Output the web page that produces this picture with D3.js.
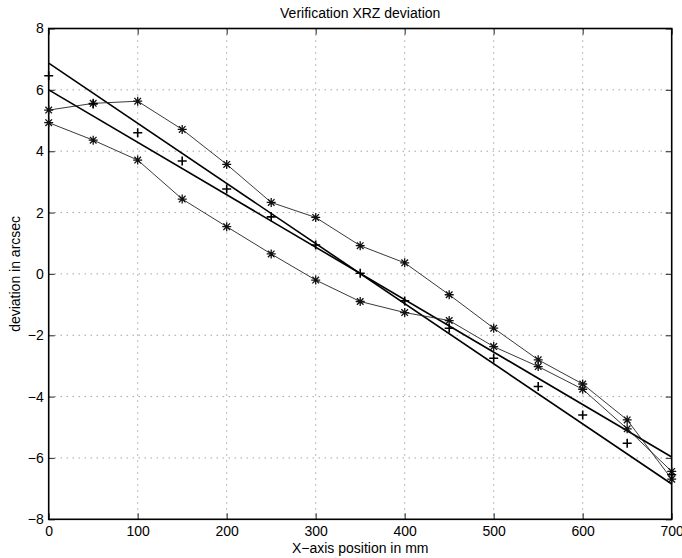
<!DOCTYPE html>
<html>
<head>
<meta charset="utf-8">
<script src="https://cdn.jsdelivr.net/npm/d3@7"></script>
<style>
    body { margin: 0; background: #fff; }
    text { font-family: "Liberation Sans", Arial, sans-serif; fill: #000; }
</style>
</head>
<body>
<div class="chart"></div>
<script>
// positions along the x axis (mm)
const positions = [0, 50, 100, 150, 200, 250, 300, 350, 400, 450, 500, 550, 600, 650, 700];
// measured runs (asterisk markers)
const runUpper = [5.34, 5.56, 5.63, 4.71, 3.57, 2.33, 1.84, 0.92, 0.36, -0.68, -1.77, -2.80, -3.59, -4.76, -6.69];
const runLower = [4.93, 4.36, 3.71, 2.44, 1.54, 0.65, -0.20, -0.90, -1.26, -1.52, -2.37, -3.02, -3.76, -5.05, -6.44];
// reference points (plus markers)
const reference = [6.46, 5.54, 4.60, 3.68, 2.77, 1.86, 0.94, 0.02, -0.88, -1.77, -2.75, -3.67, -4.60, -5.52, -6.55];
// fitted straight lines
const fitX = [0, 700];
const fitA = [6.87, -6.85];
const fitB = [6.00, -5.97];

const xTicks = [0, 100, 200, 300, 400, 500, 600, 700];
const yTicks = [-8, -6, -4, -2, 0, 2, 4, 6, 8];

function drawChart() {
    const w = 682, h = 558;
    const margin = { top: 28.5, right: 10.3, bottom: 38.7, left: 48.7 };
    const chartWidth = w - margin.left - margin.right;
    const chartHeight = h - margin.top - margin.bottom;

    const svg = d3.select('.chart')
        .append('svg')
        .attr('width', w)
        .attr('height', h);

    const g = svg.append('g')
        .attr('transform', `translate(${margin.left}, ${margin.top})`);

    const xScale = d3.scaleLinear().domain([0, 700]).range([0, chartWidth]);
    const yScale = d3.scaleLinear().domain([-8, 8]).range([chartHeight, 0]);

    const fmt = d => d < 0 ? '\u2212' + Math.abs(d) : String(d);

    // grid
    g.append('g')
        .selectAll('line')
        .data(xTicks.slice(1, -1))
        .enter().append('line')
        .attr('x1', d => xScale(d)).attr('x2', d => xScale(d))
        .attr('y1', 0).attr('y2', chartHeight)
        .attr('stroke', '#777').attr('stroke-width', 1)
        .attr('stroke-dasharray', '1,5');
    g.append('g')
        .selectAll('line')
        .data(yTicks.slice(1, -1))
        .enter().append('line')
        .attr('y1', d => yScale(d)).attr('y2', d => yScale(d))
        .attr('x1', 0).attr('x2', chartWidth)
        .attr('stroke', '#777').attr('stroke-width', 1)
        .attr('stroke-dasharray', '1,5');

    // axes with inward ticks
    const xAxis = d3.axisBottom(xScale).tickValues(xTicks).tickSize(-6).tickPadding(7).tickFormat(fmt);
    const yAxis = d3.axisLeft(yScale).tickValues(yTicks).tickSize(-6).tickPadding(5).tickFormat(fmt);

    const gx = g.append('g')
        .attr('transform', `translate(0, ${chartHeight})`)
        .call(xAxis);
    const gy = g.append('g').call(yAxis);
    const gxTop = g.append('g').call(d3.axisTop(xScale).tickValues(xTicks).tickSize(-6).tickFormat(''));
    const gyRight = g.append('g')
        .attr('transform', `translate(${chartWidth}, 0)`)
        .call(d3.axisRight(yScale).tickValues(yTicks).tickSize(-6).tickFormat(''));

    [gx, gy, gxTop, gyRight].forEach(a => {
        a.select('.domain').remove();
        a.selectAll('.tick line').attr('stroke', '#444').attr('stroke-width', 1.2);
        a.selectAll('text').style('font-size', '14px').attr('fill', '#000');
    });
    gx.selectAll('text').attr('dy', '0.71em');

    // box
    g.append('rect')
        .attr('width', chartWidth).attr('height', chartHeight)
        .attr('fill', 'none').attr('stroke', '#000').attr('stroke-width', 1.6);

    // fitted lines
    const fitLine = d3.line().x((d, i) => xScale(fitX[i])).y(d => yScale(d));
    [fitA, fitB].forEach(s => {
        g.append('path').datum(s)
            .attr('d', fitLine)
            .attr('fill', 'none').attr('stroke', '#000').attr('stroke-width', 1.6);
    });

    // measured runs
    const runLine = d3.line().x((d, i) => xScale(positions[i])).y(d => yScale(d));
    const star = 'M-4.5,0H4.5M0,-4.5V4.5M-3.3,-3.3L3.3,3.3M-3.3,3.3L3.3,-3.3';
    [runUpper, runLower].forEach(s => {
        g.append('path').datum(s)
            .attr('d', runLine)
            .attr('fill', 'none').attr('stroke', '#222').attr('stroke-width', 0.9);
        g.append('g').selectAll('path')
            .data(s)
            .enter().append('path')
            .attr('transform', (d, i) => `translate(${xScale(positions[i])}, ${yScale(d)})`)
            .attr('d', star)
            .attr('fill', 'none').attr('stroke', '#111').attr('stroke-width', 1.3);
    });

    // reference points
    g.append('g').selectAll('path')
        .data(reference)
        .enter().append('path')
        .attr('transform', (d, i) => `translate(${xScale(positions[i])}, ${yScale(d)})`)
        .attr('d', 'M-4.5,0H4.5M0,-4.5V4.5')
        .attr('fill', 'none').attr('stroke', '#000').attr('stroke-width', 1.6);

    // labels
    svg.append('text')
        .attr('x', margin.left + chartWidth / 2).attr('y', 17.5)
        .attr('text-anchor', 'middle').style('font-size', '14px')
        .text('Verification XRZ deviation');
    svg.append('text')
        .attr('x', margin.left + chartWidth / 2).attr('y', 553)
        .attr('text-anchor', 'middle').style('font-size', '14px')
        .text('X\u2212axis position in mm');
    svg.append('text')
        .attr('transform', `translate(20, ${margin.top + chartHeight / 2}) rotate(-90)`)
        .attr('text-anchor', 'middle').style('font-size', '14px')
        .text('deviation in arcsec');
}

drawChart();
</script>
</body>
</html>
